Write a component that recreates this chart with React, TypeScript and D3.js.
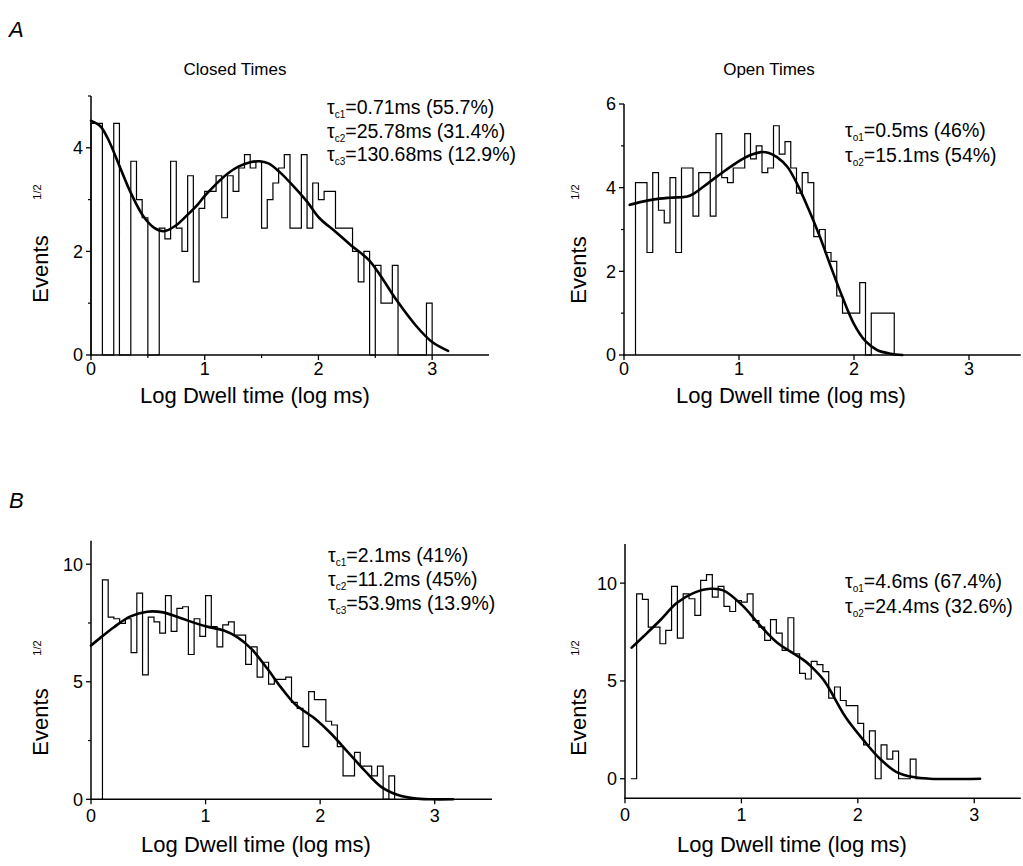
import React from "react";
import * as d3 from "d3";

// ---------------- DATA ----------------
const xTickValues = [0, 1, 2, 3];
const binWidth = 0.05;

// Panel A – Closed times (Events^1/2 per 0.05 log bin, from x = 0)
const closedA_binStart = 0;
const closedA_values = [
  4.47, 4.47, 0, 0, 4.47, 0, 0, 3.74, 3.0, 2.65,
  0, 0, 2.45, 2.24, 3.74, 2.45, 2.0, 3.46, 1.41, 2.83,
  3.16, 3.16, 3.46, 2.65, 3.46, 3.16, 3.61, 3.87, 3.61, 3.74,
  2.45, 3.0, 3.32, 3.61, 3.87, 2.45, 2.45, 3.87, 2.45, 3.32,
  3.0, 3.16, 3.16, 2.45, 2.45, 2.45, 2.0, 1.41, 2.0, 0,
  1.73, 1.0, 1.0, 1.73, 0, 0, 0, 0, 0, 1.0,
];
const closedA_fitX = [0, 0.08, 0.15, 0.25, 0.35, 0.46, 0.56, 0.64, 0.74, 0.85, 0.94, 1.0, 1.1, 1.2, 1.3, 1.4, 1.48, 1.56, 1.66, 1.78, 1.9, 2.01, 2.15, 2.28, 2.44, 2.54, 2.69, 2.86, 3.0, 3.14];
const closedA_fitY = [4.52, 4.42, 4.17, 3.65, 3.13, 2.68, 2.45, 2.39, 2.49, 2.71, 2.91, 3.07, 3.3, 3.5, 3.64, 3.72, 3.74, 3.7, 3.53, 3.26, 2.96, 2.64, 2.38, 2.13, 1.84, 1.55, 1.05, 0.56, 0.25, 0.08];
const closedA_yTicks = [0, 2, 4];
const closedA_yMinor = [1, 3, 5];
const closedA_xMinor = [0.5, 1.5, 2.5];
const closedA_tauSubs = ["c1", "c2", "c3"];
const closedA_tauTexts = ["=0.71ms (55.7%)", "=25.78ms (31.4%)", "=130.68ms (12.9%)"];

// Panel A – Open times (from x = 0.1)
const openA_binStart = 0.1;
const openA_values = [
  4.12, 4.12, 2.45, 4.36, 3.46, 3.16, 4.24, 2.45, 4.47, 4.47,
  3.32, 4.36, 4.36, 3.32, 5.29, 4.24, 4.12, 4.47, 4.47, 5.29,
  4.69, 5.0, 4.36, 4.47, 5.48, 4.8, 5.1, 4.47, 3.87, 4.36,
  4.12, 2.83, 3.0, 2.45, 2.24, 1.41, 1.0, 1.0, 1.0, 1.73,
  0, 1.0, 1.0, 1.0, 1.0,
];
const openA_fitX = [0.05, 0.15, 0.26, 0.4, 0.55, 0.62, 0.69, 0.81, 0.98, 1.1, 1.19, 1.26, 1.33, 1.42, 1.5, 1.6, 1.7, 1.8, 1.9, 2.0, 2.1, 2.2, 2.32, 2.42];
const openA_fitY = [3.59, 3.66, 3.72, 3.76, 3.79, 3.88, 4.02, 4.27, 4.6, 4.78, 4.85, 4.83, 4.73, 4.5, 4.12, 3.52, 2.85, 2.1, 1.38, 0.74, 0.33, 0.12, 0.03, 0];
const openA_yTicks = [0, 2, 4, 6];
const openA_yMinor = [1, 3, 5];
const openA_xMinor: number[] = [];
const openA_tauSubs = ["o1", "o2"];
const openA_tauTexts = ["=0.5ms (46%)", "=15.1ms (54%)"];

// Panel B – Closed times (from x = 0.1)
const closedB_binStart = 0.1;
const closedB_values = [
  9.33, 7.75, 7.68, 7.48, 7.68, 6.24, 8.77, 5.29, 7.75, 7.55,
  7.07, 8.66, 7.14, 8.12, 8.19, 6.16, 7.68, 6.93, 8.66, 7.35,
  6.48, 7.42, 7.55, 6.98, 6.98, 5.74, 6.48, 5.2, 5.83, 4.9,
  5.1, 5.1, 5.2, 4.12, 3.87, 2.24, 4.58, 4.24, 4.24, 3.32,
  3.16, 2.24, 1.0, 1.0, 2.0, 1.41, 1.41, 1.0, 1.41, 0,
  1.0,
];
const closedB_fitX = [0, 0.094, 0.2, 0.34, 0.49, 0.63, 0.78, 1.0, 1.16, 1.28, 1.4, 1.54, 1.66, 1.78, 1.9, 1.95, 2.09, 2.24, 2.385, 2.53, 2.68, 2.82, 2.97, 3.16];
const closedB_fitY = [6.54, 6.92, 7.32, 7.77, 7.98, 7.95, 7.71, 7.36, 7.18, 6.89, 6.4, 5.55, 4.75, 4.05, 3.62, 3.45, 2.82, 2.02, 1.24, 0.54, 0.18, 0.04, 0, 0];
const closedB_yTicks = [0, 5, 10];
const closedB_yMinor = [2.5, 7.5];
const closedB_xMinor: number[] = [];
const closedB_tauSubs = ["c1", "c2", "c3"];
const closedB_tauTexts = ["=2.1ms (41%)", "=11.2ms (45%)", "=53.9ms (13.9%)"];

// Panel B – Open times (from x = 0.05)
const openB_binStart = 0.05;
const openB_values = [
  0, 9.45, 9.17, 7.75, 7.75, 6.9, 7.58, 9.83, 7.19, 9.45,
  9.2, 8.35, 10.14, 10.43, 9.28, 9.83, 8.81, 8.55, 9.11, 9.03,
  9.45, 8.09, 7.75, 7.07, 8.13, 7.44, 6.56, 8.23, 6.38, 5.39,
  5.1, 6.0, 5.83, 5.48, 4.12, 4.69, 4.0, 3.74, 3.74, 2.83,
  1.73, 2.45, 0, 1.73, 1.0, 1.41, 0, 0, 1.0, 0,
  0,
];
const openB_fitX = [0.057, 0.158, 0.3, 0.444, 0.587, 0.73, 0.845, 1.008, 1.16, 1.303, 1.45, 1.55, 1.62, 1.7, 1.76, 1.83, 1.9, 2.05, 2.19, 2.333, 2.476, 2.62, 3.05];
const openB_fitY = [6.7, 7.27, 8.09, 8.98, 9.49, 9.71, 9.63, 8.86, 7.84, 6.98, 6.39, 6.0, 5.62, 5.1, 4.55, 3.8, 3.1, 1.96, 1.02, 0.34, 0.085, 0, 0];
const openB_yTicks = [0, 5, 10];
const openB_yMinor: number[] = [];
const openB_xMinor: number[] = [];
const openB_tauSubs = ["o1", "o2"];
const openB_tauTexts = ["=4.6ms (67.4%)", "=24.4ms (32.6%)"];

// ---------------- DRAWING ----------------
const FONT = "'Liberation Sans', Arial, Helvetica, sans-serif";

type PanelProps = {
  xRange: [number, number];
  xMax: number;
  yDomain: [number, number];
  yRange: [number, number];
  yTicks: number[];
  yMinor: number[];
  xMinor: number[];
  binStart: number;
  values: number[];
  fitX: number[];
  fitY: number[];
  tauSubs: string[];
  tauTexts: string[];
  tauX: number;
  tauY: number[];
  yLab: [number, number];
  supPos: [number, number];
  xLab: [number, number];
  xTickDy: number;
};

function Panel(p: PanelProps) {
  const x = d3.scaleLinear().domain([0, p.xMax]).range(p.xRange);
  const y = d3.scaleLinear().domain(p.yDomain).range(p.yRange);
  const axisY = y(p.yDomain[0]);
  const axisX = x(0);

  const pts: [number, number][] = [[p.binStart, 0]];
  p.values.forEach((v, i) => pts.push([p.binStart + i * binWidth, v]));
  const end = p.binStart + p.values.length * binWidth;
  pts.push([end, p.values[p.values.length - 1]]);
  pts.push([end, 0]);
  const hist = d3
    .line<[number, number]>()
    .x((d) => x(d[0]))
    .y((d) => y(d[1]))
    .curve(d3.curveStepAfter)(pts);

  const fitPts: [number, number][] = p.fitX.map((v, i) => [v, p.fitY[i]]);
  const fit = d3
    .line<[number, number]>()
    .x((d) => x(d[0]))
    .y((d) => y(d[1]))
    .curve(d3.curveCatmullRom.alpha(0.5))(fitPts);

  return (
    <g>
      {/* axes */}
      <line x1={axisX} x2={axisX} y1={y(p.yDomain[1])} y2={axisY + 0.75} stroke="#000" strokeWidth={1.5} />
      <line x1={axisX - 0.75} x2={x(p.xMax)} y1={axisY} y2={axisY} stroke="#000" strokeWidth={1.5} />
      {p.yTicks.map((t) => (
        <g key={"yt" + t}>
          <line x1={axisX - 5} x2={axisX} y1={y(t)} y2={y(t)} stroke="#000" strokeWidth={1.3} />
          <text x={axisX - 8} y={y(t)} dy="0.36em" textAnchor="end" fontSize={18} fontFamily={FONT}>
            {t}
          </text>
        </g>
      ))}
      {p.yMinor.map((t) => (
        <line key={"ym" + t} x1={axisX - 3} x2={axisX} y1={y(t)} y2={y(t)} stroke="#000" strokeWidth={1.2} />
      ))}
      {xTickValues.map((t) => (
        <g key={"xt" + t}>
          <line x1={x(t)} x2={x(t)} y1={axisY} y2={axisY + 5} stroke="#000" strokeWidth={1.3} />
          <text x={x(t)} y={axisY + p.xTickDy} textAnchor="middle" fontSize={18} fontFamily={FONT}>
            {t}
          </text>
        </g>
      ))}
      {p.xMinor.map((t) => (
        <line key={"xm" + t} x1={x(t)} x2={x(t)} y1={axisY} y2={axisY + 3} stroke="#000" strokeWidth={1.2} />
      ))}
      {/* histogram */}
      <path d={hist || ""} fill="none" stroke="#000" strokeWidth={1.2} />
      {/* fit */}
      <path d={fit || ""} fill="none" stroke="#000" strokeWidth={2.6} strokeLinecap="round" />
      {/* tau annotations */}
      {p.tauSubs.map((s, i) => (
        <text key={"tau" + i} x={p.tauX} y={p.tauY[i]} fontSize={19.5} fontFamily={FONT}>
          τ
          <tspan fontSize={10} dy={4}>
            {s}
          </tspan>
          <tspan dy={-4}>{p.tauTexts[i]}</tspan>
        </text>
      ))}
      {/* labels */}
      <text transform={`translate(${p.yLab[0]},${p.yLab[1]}) rotate(-90)`} textAnchor="middle" fontSize={22} fontFamily={FONT}>
        Events
      </text>
      <text transform={`translate(${p.supPos[0]},${p.supPos[1]}) rotate(-90)`} textAnchor="middle" fontSize={11} fontFamily={FONT}>
        1/2
      </text>
      <text x={p.xLab[0]} y={p.xLab[1]} textAnchor="middle" fontSize={22} fontFamily={FONT}>
        Log Dwell time (log ms)
      </text>
    </g>
  );
}

export default function App() {
  return (
    <svg
      width={1023}
      height={866}
      viewBox="0 0 1023 866"
      style={{ position: "absolute", left: 0, top: 0, background: "#fff" }}
    >
      <rect x={0} y={0} width={1023} height={866} fill="#fff" />
      <text x={9} y={37} fontSize={22} fontStyle="italic" fontFamily={FONT}>A</text>
      <text x={9} y={508} fontSize={22} fontStyle="italic" fontFamily={FONT}>B</text>
      <text x={235} y={75} textAnchor="middle" fontSize={17} fontFamily={FONT}>Closed Times</text>
      <text x={769} y={75} textAnchor="middle" fontSize={17} fontFamily={FONT}>Open Times</text>

      <Panel
        xRange={[91, 489]} xMax={3.5}
        yDomain={[0, 5]} yRange={[355, 96]}
        yTicks={closedA_yTicks} yMinor={closedA_yMinor} xMinor={closedA_xMinor}
        binStart={closedA_binStart} values={closedA_values}
        fitX={closedA_fitX} fitY={closedA_fitY}
        tauSubs={closedA_tauSubs} tauTexts={closedA_tauTexts}
        tauX={327} tauY={[114, 137.5, 161]}
        yLab={[48, 269]} supPos={[41, 192]} xLab={[255, 403]} xTickDy={20}
      />
      <Panel
        xRange={[624, 1020.75]} xMax={3.45}
        yDomain={[0, 6]} yRange={[355, 104]}
        yTicks={openA_yTicks} yMinor={openA_yMinor} xMinor={openA_xMinor}
        binStart={openA_binStart} values={openA_values}
        fitX={openA_fitX} fitY={openA_fitY}
        tauSubs={openA_tauSubs} tauTexts={openA_tauTexts}
        tauX={845} tauY={[137, 162]}
        yLab={[586, 270]} supPos={[579, 192]} xLab={[791, 403]} xTickDy={20}
      />
      <Panel
        xRange={[91, 492]} xMax={3.5}
        yDomain={[0, 11]} yRange={[799.3, 540.7]}
        yTicks={closedB_yTicks} yMinor={closedB_yMinor} xMinor={closedB_xMinor}
        binStart={closedB_binStart} values={closedB_values}
        fitX={closedB_fitX} fitY={closedB_fitY}
        tauSubs={closedB_tauSubs} tauTexts={closedB_tauTexts}
        tauX={328} tauY={[562, 586, 610]}
        yLab={[48, 722]} supPos={[41, 648]} xLab={[256, 852]} xTickDy={22.5}
      />
      <Panel
        xRange={[625, 1020.8]} xMax={3.4}
        yDomain={[-1, 12]} yRange={[798.3, 544]}
        yTicks={openB_yTicks} yMinor={openB_yMinor} xMinor={openB_xMinor}
        binStart={openB_binStart} values={openB_values}
        fitX={openB_fitX} fitY={openB_fitY}
        tauSubs={openB_tauSubs} tauTexts={openB_tauTexts}
        tauX={845} tauY={[588, 613]}
        yLab={[586, 722]} supPos={[579, 648]} xLab={[792, 852]} xTickDy={22.5}
      />
    </svg>
  );
}
